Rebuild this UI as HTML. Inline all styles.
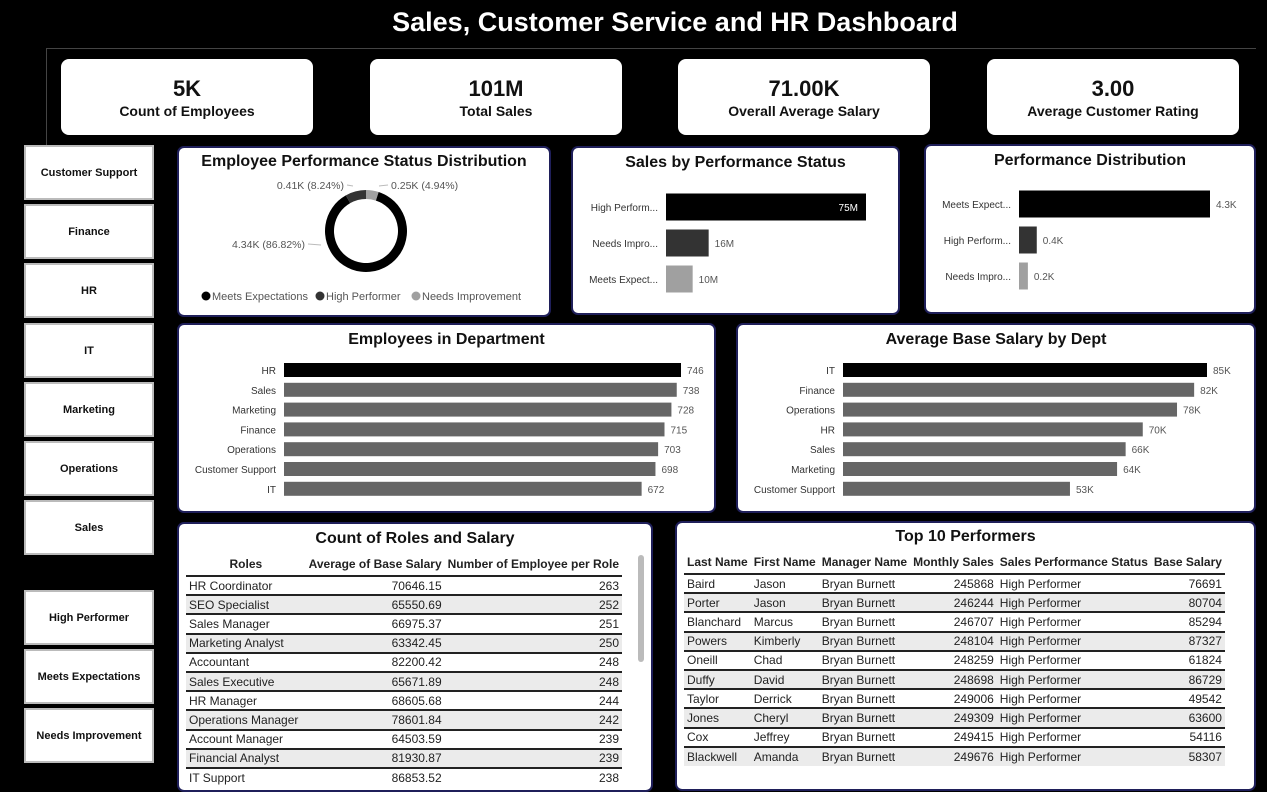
<!DOCTYPE html>
<html><head><meta charset="utf-8">
<style>
*{box-sizing:border-box;margin:0;padding:0}
body{width:1267px;height:783px;background:#000;position:relative;overflow:hidden;font-family:"Liberation Sans",sans-serif;color:#222}
.abs{position:absolute}
.title{left:0;top:7px;text-align:center;color:#fff;font-weight:bold;font-size:27px}
.kpi{background:#fff;border-radius:8px;top:59px;height:76px;width:252px;text-align:center}
.kpi .v{font-size:22px;font-weight:bold;margin-top:17px;color:#111}
.kpi .l{font-size:14px;font-weight:bold;margin-top:1px;color:#111}
.btn{left:24px;width:130px;height:55px;background:#fff;border:2px solid #bbb;font-size:11px;font-weight:bold;display:flex;align-items:center;justify-content:center;color:#111}
.panel{background:#fff;border:2px solid #1f1f5a;border-radius:7px;overflow:hidden}
.pt{font-weight:bold;font-size:16px;text-align:center;color:#111}
table{border-collapse:collapse;font-size:12px}
td,th{padding:0 3px;height:19.2px;white-space:nowrap}
th{font-size:12px;font-weight:bold;text-align:left}
tr.s td{background:#ebebeb}
tbody tr td{border-top:2px solid #222}
</style></head><body>
<div class="abs title" style="width:1350px;left:0">Sales, Customer Service and HR Dashboard</div>
<div class="abs" style="left:46px;top:48px;width:1210px;height:100px;border-top:1px solid #444;border-left:1px solid #444"></div>
<div class="abs kpi" style="left:61px"><div class="v">5K</div><div class="l">Count of Employees</div></div>
<div class="abs kpi" style="left:370px"><div class="v">101M</div><div class="l">Total Sales</div></div>
<div class="abs kpi" style="left:678px"><div class="v">71.00K</div><div class="l">Overall Average Salary</div></div>
<div class="abs kpi" style="left:987px"><div class="v">3.00</div><div class="l">Average Customer Rating</div></div>

<div class="abs btn" style="top:145px">Customer Support</div>
<div class="abs btn" style="top:204px">Finance</div>
<div class="abs btn" style="top:263px">HR</div>
<div class="abs btn" style="top:323px">IT</div>
<div class="abs btn" style="top:382px">Marketing</div>
<div class="abs btn" style="top:441px">Operations</div>
<div class="abs btn" style="top:500px">Sales</div>
<div class="abs btn" style="top:590px">High Performer</div>
<div class="abs btn" style="top:649px">Meets Expectations</div>
<div class="abs btn" style="top:708px">Needs Improvement</div>

<div class="abs panel" style="left:177px;top:146px;width:374px;height:171px">
<div class="pt" style="margin-top:5px">Employee Performance Status Distribution</div>
<svg id="donut" class="abs" style="left:0;top:0" width="374" height="171"></svg>
</div>
<div class="abs panel" style="left:571px;top:146px;width:329px;height:169px">
<div class="pt" style="margin-top:6px">Sales by Performance Status</div>
<svg id="sales" class="abs" style="left:0;top:0" width="329" height="169"></svg>
</div>
<div class="abs panel" style="left:924px;top:144px;width:332px;height:170px">
<div class="pt" style="margin-top:6px">Performance Distribution</div>
<svg id="perf" class="abs" style="left:0;top:0" width="332" height="170"></svg>
</div>
<div class="abs panel" style="left:177px;top:323px;width:539px;height:190px">
<div class="pt" style="margin-top:6px">Employees in Department</div>
<svg id="dept" class="abs" style="left:0;top:0" width="539" height="190"></svg>
</div>
<div class="abs panel" style="left:736px;top:323px;width:520px;height:190px">
<div class="pt" style="margin-top:6px">Average Base Salary by Dept</div>
<svg id="sal" class="abs" style="left:0;top:0" width="520" height="190"></svg>
</div>

<div class="abs panel" style="left:177px;top:522px;width:476px;height:270px">
<div class="pt" style="margin-top:6px">Count of Roles and Salary</div>
<table class="abs" style="left:7px;top:29px;width:436px">
<thead><tr style="height:23px"><th style="text-align:center;width:124px">Roles</th><th style="text-align:right;width:137px">Average of Base Salary</th><th style="text-align:right">Number of Employee per Role</th></tr></thead>
<tbody>
<tr><td>HR Coordinator</td><td align="right">70646.15</td><td align="right">263</td></tr>
<tr class="s"><td>SEO Specialist</td><td align="right">65550.69</td><td align="right">252</td></tr>
<tr><td>Sales Manager</td><td align="right">66975.37</td><td align="right">251</td></tr>
<tr class="s"><td>Marketing Analyst</td><td align="right">63342.45</td><td align="right">250</td></tr>
<tr><td>Accountant</td><td align="right">82200.42</td><td align="right">248</td></tr>
<tr class="s"><td>Sales Executive</td><td align="right">65671.89</td><td align="right">248</td></tr>
<tr><td>HR Manager</td><td align="right">68605.68</td><td align="right">244</td></tr>
<tr class="s"><td>Operations Manager</td><td align="right">78601.84</td><td align="right">242</td></tr>
<tr><td>Account Manager</td><td align="right">64503.59</td><td align="right">239</td></tr>
<tr class="s"><td>Financial Analyst</td><td align="right">81930.87</td><td align="right">239</td></tr>
<tr><td>IT Support</td><td align="right">86853.52</td><td align="right">238</td></tr>
</tbody></table>
<div class="abs" style="left:459px;top:31px;width:6px;height:107px;background:#bbb;border-radius:3px"></div>
</div>

<div class="abs panel" style="left:675px;top:521px;width:581px;height:270px">
<div class="pt" style="margin-top:5px">Top 10 Performers</div>
<table class="abs" style="left:7px;top:28px;width:535px">
<thead><tr style="height:23px"><th style="width:68px">Last Name</th><th style="width:69px">First Name</th><th style="width:94px">Manager Name</th><th style="width:86px;text-align:right">Monthly Sales</th><th style="width:150px">Sales Performance Status</th><th style="text-align:right">Base Salary</th></tr></thead>
<tbody>
<tr><td>Baird</td><td>Jason</td><td>Bryan Burnett</td><td align="right">245868</td><td>High Performer</td><td align="right">76691</td></tr>
<tr class="s"><td>Porter</td><td>Jason</td><td>Bryan Burnett</td><td align="right">246244</td><td>High Performer</td><td align="right">80704</td></tr>
<tr><td>Blanchard</td><td>Marcus</td><td>Bryan Burnett</td><td align="right">246707</td><td>High Performer</td><td align="right">85294</td></tr>
<tr class="s"><td>Powers</td><td>Kimberly</td><td>Bryan Burnett</td><td align="right">248104</td><td>High Performer</td><td align="right">87327</td></tr>
<tr><td>Oneill</td><td>Chad</td><td>Bryan Burnett</td><td align="right">248259</td><td>High Performer</td><td align="right">61824</td></tr>
<tr class="s"><td>Duffy</td><td>David</td><td>Bryan Burnett</td><td align="right">248698</td><td>High Performer</td><td align="right">86729</td></tr>
<tr><td>Taylor</td><td>Derrick</td><td>Bryan Burnett</td><td align="right">249006</td><td>High Performer</td><td align="right">49542</td></tr>
<tr class="s"><td>Jones</td><td>Cheryl</td><td>Bryan Burnett</td><td align="right">249309</td><td>High Performer</td><td align="right">63600</td></tr>
<tr><td>Cox</td><td>Jeffrey</td><td>Bryan Burnett</td><td align="right">249415</td><td>High Performer</td><td align="right">54116</td></tr>
<tr class="s"><td>Blackwell</td><td>Amanda</td><td>Bryan Burnett</td><td align="right">249676</td><td>High Performer</td><td align="right">58307</td></tr>
</tbody></table>
</div>

<script>
const donutLabels=["Needs Improvement","Meets Expectations","High Performer"];
const donutValues=[0.25,4.34,0.41];
const donutText=["0.25K (4.94%)","4.34K (86.82%)","0.41K (8.24%)"];
const salesCats=["High Perform...","Needs Impro...","Meets Expect..."];
const salesVals=[75,16,10];
const perfCats=["Meets Expect...","High Perform...","Needs Impro..."];
const perfVals=[4.3,0.4,0.2];
const deptCats=["HR","Sales","Marketing","Finance","Operations","Customer Support","IT"];
const deptVals=[746,738,728,715,703,698,672];
const salCats=["IT","Finance","Operations","HR","Sales","Marketing","Customer Support"];
const salVals=[85,82,78,70,66,64,53];
const NS="http://www.w3.org/2000/svg";
function mk(svg,tag,attrs,text){const e=document.createElementNS(NS,tag);for(const k in attrs)e.setAttribute(k,attrs[k]);if(text!==undefined)e.textContent=text;svg.appendChild(e);return e;}
const greys={"Needs Improvement":"#a0a0a0","Meets Expectations":"#000","High Performer":"#333"};
(function(){
 const svg=document.getElementById('donut');const cx=187,cy=83,R=41,r=32;
 const tot=donutValues.reduce((a,b)=>a+b,0);let a0=0;
 const p=(a,rr)=>[cx+rr*Math.sin(a),cy-rr*Math.cos(a)];
 donutValues.forEach((v,i)=>{
  const a1=a0+v/tot*2*Math.PI;
  const [x1,y1]=p(a0,R),[x2,y2]=p(a1,R),[x3,y3]=p(a1,r),[x4,y4]=p(a0,r);const lg=(a1-a0)>Math.PI?1:0;
  const s=mk(svg,'path',{d:`M${x1},${y1}A${R},${R} 0 ${lg} 1 ${x2},${y2}L${x3},${y3}A${r},${r} 0 ${lg} 0 ${x4},${y4}Z`,fill:greys[donutLabels[i]]});
  
  
  a0=a1;
 });
 // label anchor positions (layout)
 const pos=[[212,41,'start',200,38],[126,100,'end',142,97],[165,41,'end',174,38]];
 donutText.forEach((txt,i)=>{
  const [tx,ty,an,lx,ly]=pos[i];
  mk(svg,'line',{x1:an==='start'?tx-3:tx+3,y1:ty-4,x2:lx,y2:ly,stroke:'#bbb'});
  const t=mk(svg,'text',{x:tx,y:ty,'font-size':10.5,fill:'#555','text-anchor':an},txt);
  
  
 });
 const leg=[["Meets Expectations",27],["High Performer",141],["Needs Improvement",237]];
 leg.forEach(([n,x])=>{const c=mk(svg,'circle',{cx:x,cy:148,r:4.5,fill:greys[n]});
  
  
  const t=mk(svg,'text',{x:x+6,y:152,'font-size':11,fill:'#555'},n);
  
  });
})();
function bars(id,cats,vals,x0,maxV,maxW,y0,step,h,cols,fmt,labFs,inside){
 const svg=document.getElementById(id);
 cats.forEach((c,i)=>{const y=y0+i*step;const w=vals[i]/maxV*maxW;
  const t=mk(svg,'text',{x:x0-8,y:y+4,'font-size':labFs,fill:'#333','text-anchor':'end'},c);
  
  
  const b=mk(svg,'rect',{x:x0,y:y-h/2,width:w,height:h,fill:cols(i)});
  
  
  const ins=inside&&i===0;
  const v=mk(svg,'text',{x:ins?x0+w-8:x0+w+6,y:y+4,'font-size':labFs,fill:ins?'#fff':'#555','text-anchor':ins?'end':'start'},fmt(vals[i]));
  
  
 });
}
const c3=['#000','#333','#a0a0a0'];
bars('sales',salesCats,salesVals,93,75,200,59,36,27,i=>c3[i],v=>v+'M',10,true);
bars('perf',perfCats,perfVals,93,4.3,191,58,36,27,i=>c3[i],v=>v+'K',10,false);
bars('dept',deptCats,deptVals,105,746,397,45,19.8,14,i=>i===0?'#000':'#666',v=>v,10,false);
bars('sal',salCats,salVals,105,85,364,45,19.8,14,i=>i===0?'#000':'#666',v=>v+'K',10,false);
</script>
</body></html>
